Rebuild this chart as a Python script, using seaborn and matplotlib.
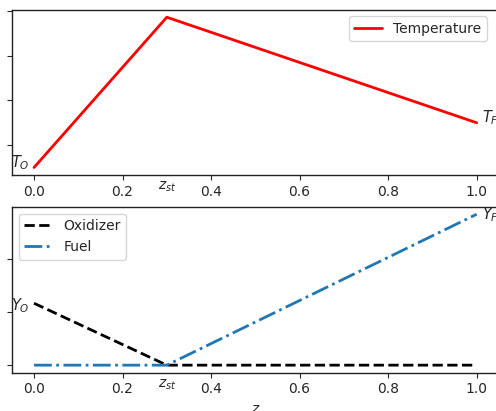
import matplotlib
matplotlib.use("Agg")
import matplotlib.pyplot as plt
import matplotlib.transforms as mtransforms
import seaborn as sns
import numpy as np

# ---- data ----
z_st = 0.3
z_points = [0.0, z_st, 1.0]
temperature = [250, 1930, 750]      # T_O, T_max, T_F
oxidizer = [0.233, 0.0, 0.0]        # Y_O -> 0
fuel = [0.0, 0.0, 0.568]            # 0 -> Y_F
x_ticks = [0.0, 0.2, 0.4, 0.6, 0.8, 1.0]
x_tick_labels = ["0.0", "0.2", "0.4", "0.6", "0.8", "1.0"]
t_ticks = [500, 1000, 1500, 2000]
y_ticks = [0.0, 0.2, 0.4]

sns.set_style("ticks")
plt.rcParams["font.family"] = ["DejaVu Sans"]
plt.rcParams["font.size"] = 10

W, H = 496, 411
fig = plt.figure(figsize=(W / 100, H / 100), dpi=100)

def pos(left, right, top, bottom):
    return [left / W, 1 - bottom / H, (right - left) / W, (bottom - top) / H]

ax1 = fig.add_axes(pos(11.9, 498.8, 9.7, 175.0))
ax2 = fig.add_axes(pos(11.9, 498.8, 206.7, 372.7))

blue = "#1f77b4"

# ---- top: temperature ----
sns.lineplot(x=z_points, y=temperature, color="red", lw=2, label="Temperature",
             ax=ax1, sort=False)
ax1.set_xticks(x_ticks)
ax1.set_xticklabels(x_tick_labels)
ax1.set_yticks(t_ticks)
ax1.set_yticklabels([])
ax1.annotate(r"$T_O$", (0.0, temperature[0]), xytext=(-3, 3.6), textcoords="offset points",
             ha="right", va="center", fontsize=10.5)
ax1.annotate(r"$T_F$", (1.0, temperature[2]), xytext=(4, 3.6), textcoords="offset points",
             ha="left", va="center", fontsize=10.5)
tr1 = mtransforms.blended_transform_factory(ax1.transData, ax1.transAxes)
ax1.text(z_st, -0.03, r"$z_{st}$", transform=tr1, ha="center", va="top", fontsize=10)
ax1.legend(loc="upper right", bbox_to_anchor=(487 / W, 1 - 16 / H),
           bbox_transform=fig.transFigure, borderaxespad=0)

# ---- bottom: mass fractions ----
sns.lineplot(x=z_points, y=oxidizer, color="black", lw=2, linestyle="--",
             label="Oxidizer", ax=ax2, sort=False)
sns.lineplot(x=z_points, y=fuel, color=blue, lw=2, linestyle="-.",
             label="Fuel", ax=ax2, sort=False)
ax2.set_xticks(x_ticks)
ax2.set_xticklabels(x_tick_labels)
ax2.set_yticks(y_ticks)
ax2.set_yticklabels([])
ax2.annotate(r"$Y_O$", (0.0, oxidizer[0]), xytext=(-3, -1.5), textcoords="offset points",
             ha="right", va="center", fontsize=10.5)
ax2.annotate(r"$Y_F$", (1.0, fuel[2]), xytext=(4, 0), textcoords="offset points",
             ha="left", va="center", fontsize=10.5)
tr2 = mtransforms.blended_transform_factory(ax2.transData, ax2.transAxes)
ax2.text(z_st, -0.03, r"$z_{st}$", transform=tr2, ha="center", va="top", fontsize=10)
ax2.set_xlabel(r"$z$")
ax2.legend(loc="upper left")

for ax in (ax1, ax2):
    for s in ax.spines.values():
        s.set_color("#222222")
        s.set_linewidth(1.0)

fig.savefig("out.png", dpi=100)
